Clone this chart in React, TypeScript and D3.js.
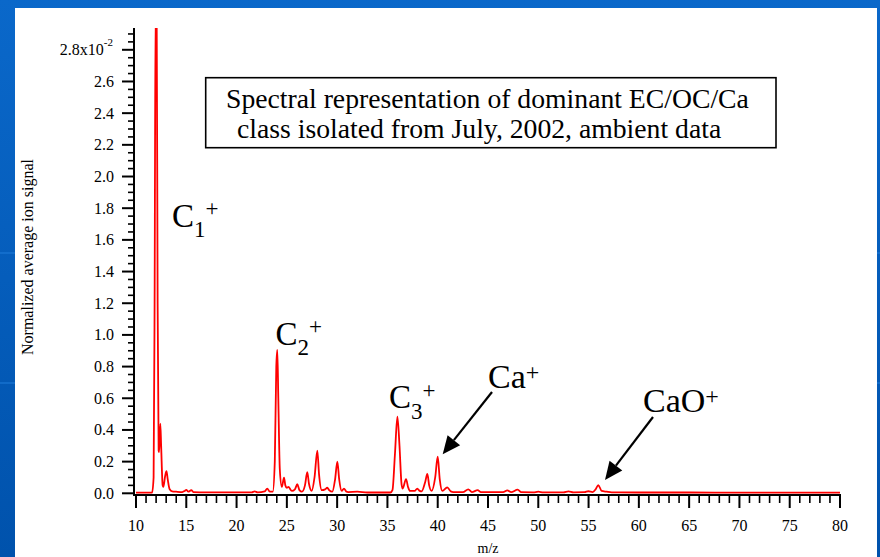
import React from "react";
import * as d3 from "d3";

// ---- data (m/z, normalized signal in units of 1e-2) ----
const mz: number[] = [
  10.0, 11.0, 11.6, 11.75, 11.85, 11.95, 12.05, 12.15, 12.25, 12.3, 12.42, 12.5, 12.65, 12.72, 12.9, 13.03,
  13.15, 13.35, 13.6, 14.0, 14.6, 14.85, 15.0, 15.2, 15.5, 15.7, 17.0, 20.0, 21.5, 21.8, 22.1, 22.8,
  23.05, 23.3, 23.6, 23.8, 23.95, 24.05, 24.15, 24.3, 24.5, 24.72, 24.85, 25.0, 25.15, 25.5, 25.8, 26.04,
  26.25, 26.5, 26.8, 27.03, 27.2, 27.47, 27.75, 28.03, 28.2, 28.47, 28.8, 29.02, 29.2, 29.52, 29.8, 30.02,
  30.2, 30.45, 30.68, 30.9, 31.1, 32.0, 33.0, 35.3, 35.5, 35.75, 35.99, 36.2, 36.4, 36.52, 36.85, 37.05,
  37.24, 37.7, 37.97, 38.2, 38.4, 38.75, 38.97, 39.15, 39.4, 39.75, 40.0, 40.2, 40.46, 40.95, 41.3, 41.55,
  42.5, 43.04, 43.4, 43.97, 44.3, 46.5, 46.92, 47.3, 47.95, 48.3, 49.5, 50.0, 50.5, 52.5, 53.0, 53.5,
  54.6, 54.97, 55.4, 55.7, 55.97, 56.3, 56.8, 57.3, 60.0, 65.0, 70.0, 75.0, 80.0,
];
const signal: number[] = [
  0.004, 0.004, 0.005, 0.1, 1.2, 3.1, 3.1, 1.2, 0.27, 0.26, 0.44, 0.3, 0.05, 0.04, 0.11, 0.14,
  0.09, 0.025, 0.012, 0.01, 0.008, 0.015, 0.022, 0.01, 0.02, 0.008, 0.006, 0.006, 0.006, 0.012, 0.006, 0.012,
  0.03, 0.01, 0.01, 0.2, 0.8, 0.905, 0.6, 0.15, 0.04, 0.099, 0.05, 0.035, 0.04, 0.015, 0.025, 0.057,
  0.02, 0.01, 0.05, 0.133, 0.06, 0.015, 0.1, 0.27, 0.12, 0.02, 0.025, 0.035, 0.02, 0.01, 0.09, 0.2,
  0.09, 0.015, 0.03, 0.012, 0.008, 0.01, 0.005, 0.005, 0.02, 0.25, 0.484, 0.3, 0.06, 0.03, 0.09, 0.04,
  0.015, 0.015, 0.03, 0.015, 0.012, 0.07, 0.122, 0.05, 0.015, 0.1, 0.231, 0.09, 0.015, 0.038, 0.012, 0.008,
  0.008, 0.025, 0.008, 0.02, 0.007, 0.007, 0.019, 0.007, 0.023, 0.007, 0.006, 0.01, 0.006, 0.006, 0.012, 0.006,
  0.007, 0.013, 0.008, 0.025, 0.052, 0.015, 0.01, 0.006, 0.005, 0.005, 0.004, 0.004, 0.004,
];

const xMajorTicks: number[] = [10, 15, 20, 25, 30, 35, 40, 45, 50, 55, 60, 65, 70, 75, 80];
const yMajorTicks: number[] = [0, 0.2, 0.4, 0.6, 0.8, 1.0, 1.2, 1.4, 1.6, 1.8, 2.0, 2.2, 2.4, 2.6, 2.8];
const yTickLabels: string[] = ["0.0", "0.2", "0.4", "0.6", "0.8", "1.0", "1.2", "1.4", "1.6", "1.8", "2.0", "2.2", "2.4", "2.6", "2.8"];

const titleLines: string[] = [
  "Spectral representation of dominant EC/OC/Ca",
  "class isolated from July, 2002, ambient data",
];

const W = 880;
const H = 557;
const FONT = "'Liberation Serif', 'Times New Roman', serif";

export default function App() {
  const x = d3.scaleLinear().domain([10, 80]).range([136, 840]);
  const y = d3.scaleLinear().domain([0, 2.8]).range([493.3, 49.8]);
  const plotTop = 28;
  const axisY = 495;
  const axisX = 134;

  const pts: [number, number][] = mz.map((m, i) => [m, signal[i]]);
  const line = d3
    .line<[number, number]>()
    .x((d) => x(d[0]))
    .y((d) => y(d[1]))
    .curve(d3.curveMonotoneX);

  const xMinor = d3.range(10, 81, 1).filter((v) => v % 5 !== 0);
  const yMinor = d3.range(0, 2.93, 0.05).filter((v) => Math.abs(v / 0.2 - Math.round(v / 0.2)) > 0.01);

  const arrow = (x1: number, y1: number, x2: number, y2: number, key: string) => {
    const ang = Math.atan2(y2 - y1, x2 - x1);
    const L = 18;
    const Wd = 8;
    const bx = x2 - L * Math.cos(ang);
    const by = y2 - L * Math.sin(ang);
    const px = -Math.sin(ang) * Wd;
    const py = Math.cos(ang) * Wd;
    return (
      <g key={key}>
        <line x1={x1} y1={y1} x2={bx} y2={by} stroke="#000" strokeWidth={2.2} />
        <polygon points={`${x2},${y2} ${bx + px},${by + py} ${bx - px},${by - py}`} fill="#000" />
      </g>
    );
  };

  return (
    <svg width={W} height={H} style={{ position: "absolute", left: 0, top: 0 }} fontFamily={FONT}>
      <defs>
        <linearGradient id="bg" x1="0" y1="0" x2="0" y2="1">
          <stop offset="0" stopColor="#0A68CA" />
          <stop offset="1" stopColor="#0052AC" />
        </linearGradient>
        <clipPath id="plotclip">
          <rect x={axisX} y={plotTop} width={x(80) - axisX + 2} height={axisY - plotTop} />
        </clipPath>
      </defs>
      <rect x={0} y={0} width={W} height={H} fill="url(#bg)" />
      <rect x={0} y={252} width={W} height={2} fill="#1A78D6" opacity={0.6} />
      <rect x={0} y={382} width={W} height={2} fill="#1A78D6" opacity={0.6} />
      <rect x={15} y={8} width={862} height={H - 8} fill="#fff" />

      {/* spectrum */}
      <path d={line(pts) || ""} fill="none" stroke="#FF0000" strokeWidth={1.8} strokeLinejoin="round" clipPath="url(#plotclip)" />

      {/* axes */}
      <line x1={axisX} y1={plotTop} x2={axisX} y2={axisY + 1} stroke="#000" strokeWidth={2} />
      <line x1={axisX - 1} y1={axisY} x2={x(80) + 1} y2={axisY} stroke="#000" strokeWidth={2} />

      {xMajorTicks.map((t) => (
        <g key={"xm" + t}>
          <line x1={x(t)} x2={x(t)} y1={axisY} y2={axisY + 13} stroke="#000" strokeWidth={2} />
          <text x={x(t)} y={531} fontSize={16} textAnchor="middle" fill="#000">
            {t}
          </text>
        </g>
      ))}
      {xMinor.map((t) => (
        <line key={"xn" + t} x1={x(t)} x2={x(t)} y1={axisY} y2={axisY + 8} stroke="#000" strokeWidth={1.6} />
      ))}
      <text x={488} y={553} fontSize={14} textAnchor="middle" fill="#000">
        m/z
      </text>

      {yMajorTicks.map((t, i) => (
        <g key={"ym" + t}>
          <line x1={axisX - 12} x2={axisX} y1={y(t)} y2={y(t)} stroke="#000" strokeWidth={2} />
          {i < yMajorTicks.length - 1 ? (
            <text x={114} y={y(t) + 5.5} fontSize={16} textAnchor="end" fill="#000">
              {yTickLabels[i]}
            </text>
          ) : (
            <text x={113} y={y(t) + 5.5} fontSize={16} textAnchor="end" fill="#000">
              {yTickLabels[i] + "x10"}
              <tspan fontSize={11} dy={-9}>
                -2
              </tspan>
            </text>
          )}
        </g>
      ))}
      {yMinor.map((t) => (
        <line key={"yn" + t.toFixed(2)} x1={axisX - 6} x2={axisX} y1={y(t)} y2={y(t)} stroke="#000" strokeWidth={1.6} />
      ))}
      <text
        transform="translate(32.5,257) rotate(-90)"
        fontSize={16}
        textAnchor="middle"
        fill="#000"
      >
        Normalized average ion signal
      </text>

      {/* title box */}
      <rect x={205.7} y={77.7} width={570.3} height={70} fill="#fff" stroke="#000" strokeWidth={1.6} />
      <text x={226} y={107.5} fontSize={27.7} fill="#000">
        {titleLines[0]}
      </text>
      <text x={237} y={138} fontSize={27.7} fill="#000">
        {titleLines[1]}
      </text>

      {/* peak labels */}
      <text x={172} y={227} fontSize={33} fill="#000">
        C
        <tspan fontSize={23} dy={10}>1</tspan>
        <tspan fontSize={23} dy={-21}>+</tspan>
      </text>
      <text x={275.5} y={345} fontSize={33} fill="#000">
        C
        <tspan fontSize={23} dy={10}>2</tspan>
        <tspan fontSize={23} dy={-21}>+</tspan>
      </text>
      <text x={389} y={408} fontSize={33} fill="#000">
        C
        <tspan fontSize={23} dy={11}>3</tspan>
        <tspan fontSize={23} dy={-21}>+</tspan>
      </text>
      <text x={488} y={388} fontSize={34} fill="#000">
        Ca
        <tspan fontSize={24} dy={-8}>+</tspan>
      </text>
      <text x={643} y={412} fontSize={34} fill="#000">
        CaO
        <tspan fontSize={24} dy={-8}>+</tspan>
      </text>

      {arrow(492, 392, 442.7, 454.3, "a1")}
      {arrow(653, 417, 605, 480, "a2")}
    </svg>
  );
}
